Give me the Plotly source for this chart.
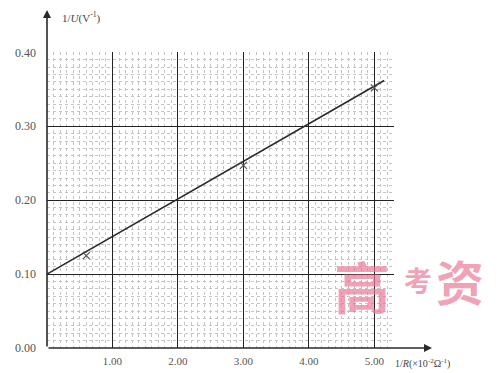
import plotly.graph_objects as go

# data
line_x = [0.0, 5.15]
line_y = [0.10, 0.362]
point_x = [0.6, 3.0, 5.0]
point_y = [0.125, 0.247, 0.352]
x_ticks = [1, 2, 3, 4, 5]
x_tick_text = ["1.00", "2.00", "3.00", "4.00", "5.00"]
y_ticks = [0.0, 0.1, 0.2, 0.3, 0.4]
y_tick_text = ["0.00", "0.10", "0.20", "0.30", "0.40"]

FONT = "Liberation Serif, DejaVu Serif, serif"
INK = "#2a2a2a"
W, H = 499, 373
L, R, T, B = 47, 105, 52, 25
PW, PH = W - L - R, H - T - B


def px(xp):
    return (xp - L) / PW


def py(yp):
    return (H - B - yp) / PH


fig = go.Figure()
fig.add_trace(go.Scatter(x=line_x, y=line_y, mode="lines",
                         line=dict(color=INK, width=1.6), showlegend=False))
fig.add_trace(go.Scatter(x=point_x, y=point_y, mode="markers",
                         marker=dict(symbol="x-thin", size=7, line=dict(color="#555", width=1.2)),
                         showlegend=False))

fig.update_layout(
    width=W, height=H,
    margin=dict(l=L, r=R, t=T, b=B, autoexpand=False),
    paper_bgcolor="white", plot_bgcolor="white",
    font=dict(family=FONT, size=11, color="#333"),
    xaxis=dict(range=[0, 5.3], tickvals=x_ticks, ticktext=x_tick_text,
               showgrid=True, gridcolor="#222", gridwidth=1.4,
               minor=dict(dtick=0.1, showgrid=True, gridcolor="#c4c4c4", griddash="dot", gridwidth=1),
               zeroline=False, showline=False, ticks="", ticklabelstandoff=5,
               automargin=False,
               tickfont=dict(family=FONT, size=11, color="#555")),
    yaxis=dict(range=[0, 0.4005], tickvals=y_ticks, ticktext=y_tick_text,
               showgrid=True, gridcolor="#222", gridwidth=1.4,
               minor=dict(dtick=0.01, showgrid=True, gridcolor="#c4c4c4", griddash="dot", gridwidth=1),
               zeroline=False, showline=False, ticks="", ticklabelstandoff=10,
               automargin=False,
               tickfont=dict(family=FONT, size=12, color="#555")),
)

# axes with arrows (tip in paper coords, tail offset in pixels)
fig.add_annotation(x=px(432), y=0, xref="paper", yref="paper", ax=-(432 - L), ay=0,
                   axref="pixel", ayref="pixel",
                   showarrow=True, arrowhead=2, arrowsize=1, arrowwidth=1.6, arrowcolor=INK, text="")
fig.add_annotation(x=0, y=py(10), xref="paper", yref="paper", ax=0, ay=(H - B - 10),
                   axref="pixel", ayref="pixel",
                   showarrow=True, arrowhead=2, arrowsize=1, arrowwidth=1.6, arrowcolor=INK, text="")

# axis titles
fig.add_annotation(x=px(60), y=py(18), xref="paper", yref="paper", showarrow=False,
                   xanchor="left", yanchor="middle",
                   text="1/<i>U</i>(V<sup>-1</sup>)", font=dict(family=FONT, size=11, color="#444"))
fig.add_annotation(x=px(393), y=py(364), xref="paper", yref="paper", showarrow=False,
                   xanchor="left", yanchor="middle",
                   text="1/<i>R</i>(×10<sup>-2</sup>Ω<sup>-1</sup>)", font=dict(family=FONT, size=10, color="#444"))

# pink watermark
for ch, cx, cy, sz in [("高", 362, 284, 56), ("考", 418, 280, 28), ("资", 460, 280, 48)]:
    fig.add_annotation(x=px(cx), y=py(cy), xref="paper", yref="paper", showarrow=False,
                       xanchor="center", yanchor="middle",
                       text="<b>" + ch + "</b>",
                       font=dict(family="Noto Sans CJK SC", size=sz, color="rgba(236,120,150,0.7)"))

fig.write_html("out.html", config={"displayModeBar": False},
               post_script="document.body.style.margin='0';")
